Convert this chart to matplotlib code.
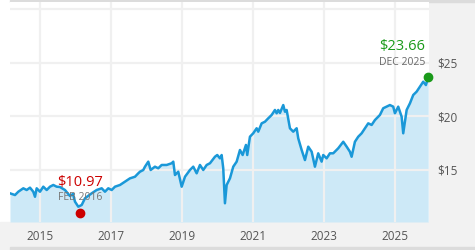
import matplotlib
matplotlib.use("Agg")
import matplotlib.pyplot as plt
from matplotlib.patches import Rectangle

plt.rcParams["font.family"] = ["Open Sans", "DejaVu Sans"]

# price history (decimal years, dollars)
years = [2014.155, 2014.296, 2014.389, 2014.530, 2014.625, 2014.718, 2014.811, 2014.859,
         2014.907, 2015.000, 2015.093, 2015.189, 2015.282, 2015.375, 2015.470, 2015.563,
         2015.704, 2015.845, 2015.930, 2015.986, 2016.079, 2016.175, 2016.268, 2016.352,
         2016.456, 2016.597, 2016.738, 2016.831, 2016.924, 2017.020, 2017.113, 2017.254,
         2017.394, 2017.535, 2017.676, 2017.769, 2017.817, 2017.910, 2017.958, 2018.051,
         2018.118, 2018.239, 2018.332, 2018.428, 2018.569, 2018.710, 2018.755, 2018.803,
         2018.896, 2018.992, 2019.085, 2019.225, 2019.318, 2019.414, 2019.507, 2019.600,
         2019.696, 2019.789, 2019.930, 2019.994, 2020.070, 2020.118, 2020.163, 2020.211,
         2020.259, 2020.352, 2020.445, 2020.541, 2020.634, 2020.710, 2020.803, 2020.839,
         2020.915, 2021.008, 2021.104, 2021.149, 2021.245, 2021.338, 2021.431, 2021.527,
         2021.620, 2021.668, 2021.713, 2021.761, 2021.854, 2021.901, 2021.949, 2022.042,
         2022.135, 2022.231, 2022.276, 2022.372, 2022.465, 2022.558, 2022.654, 2022.746,
         2022.839, 2022.935, 2022.980, 2023.076, 2023.169, 2023.262, 2023.403, 2023.544,
         2023.640, 2023.732, 2023.780, 2023.873, 2023.966, 2024.062, 2024.155, 2024.248,
         2024.344, 2024.437, 2024.577, 2024.670, 2024.766, 2024.859, 2024.952, 2025.000,
         2025.093, 2025.189, 2025.234, 2025.330, 2025.423, 2025.516, 2025.611, 2025.704,
         2025.797, 2025.873, 2025.938]
prices = [12.82, 12.66, 12.97, 13.29, 13.13, 13.35, 12.97, 12.50,
          13.29, 12.97, 13.44, 13.13, 13.44, 13.60, 13.44, 13.41,
          13.13, 12.57, 12.76, 12.04, 11.57, 11.73, 12.36, 12.57,
          12.82, 13.13, 13.29, 12.97, 13.29, 13.13, 13.44, 13.60,
          13.91, 14.22, 14.37, 14.69, 14.84, 15.00, 15.31, 15.78,
          15.00, 15.31, 15.16, 15.47, 15.47, 15.63, 15.78, 14.53,
          14.84, 13.44, 14.37, 15.00, 15.31, 14.69, 15.47, 15.00,
          15.47, 15.63, 16.24, 16.40, 16.09, 16.40, 15.16, 11.89,
          13.60, 14.22, 15.31, 15.78, 16.87, 16.40, 17.34, 16.40,
          18.11, 18.43, 18.90, 18.58, 19.36, 19.51, 19.83, 20.14,
          20.61, 20.30, 20.61, 20.33, 21.07, 20.45, 20.61, 18.90,
          18.58, 18.90, 17.96, 16.87, 15.93, 17.18, 16.71, 15.31,
          16.56, 15.78, 16.40, 16.09, 16.56, 16.56, 17.03, 17.64,
          17.18, 16.71, 16.24, 17.64, 18.11, 18.43, 18.90, 19.36,
          19.21, 19.67, 20.14, 20.77, 20.92, 21.07, 20.92, 20.30,
          20.92, 19.98, 18.43, 20.61, 21.23, 22.01, 22.32, 22.79,
          23.25, 22.94, 23.66]

low_year, low_price, low_label = 2016.13, 10.97, "FEB 2016"
last_year, last_price, last_label = 2025.938, 23.66, "DEC 2025"

x_ticks = [2015, 2017, 2019, 2021, 2023, 2025]
y_ticks = [15, 20, 25, 30]
y_labels = ["$15", "$20", "$25", ""]

W, H = 475, 250
fig = plt.figure(figsize=(W / 100, H / 100), dpi=100)

# grey frame: bottom band, right panel, thin top and bottom rules
frame = [((0, 0), 1, 28 / H, "#f2f2f2"),
         ((429 / W, 0), 46 / W, 1, "#f2f2f2"),
         ((10 / W, 0), 465 / W, 3 / H, "#dcdcdc"),
         ((10 / W, 248 / H), 465 / W, 2 / H, "#dcdcdc")]
for xy, w, h, c in frame:
    fig.patches.append(Rectangle(xy, w, h, transform=fig.transFigure,
                                 color=c, zorder=-1))

ax = fig.add_axes([10 / W, 28 / H, 419 / W, 220 / H])
ymin = 10.14
ax.set_xlim(2014.155, 2025.96)
ax.set_ylim(ymin, 30.7)

ax.fill_between(years, prices, ymin, color="#cde9f7", lw=0, zorder=1)
ax.plot(years, prices, color="#1a98d8", lw=1.8, zorder=2)

ax.set_axisbelow("line")
ax.grid(color="#f0f0f0", lw=1.6)
for s in ax.spines.values():
    s.set_visible(False)

ax.set_xticks(x_ticks)
ax.set_xticklabels([str(y) for y in x_ticks])
ax.set_yticks(y_ticks)
ax.set_yticklabels(y_labels)
ax.yaxis.tick_right()
ax.tick_params(axis="both", length=0, labelsize=8.5, colors="#555555")
ax.tick_params(axis="x", pad=6)
ax.tick_params(axis="y", pad=6)

# low point
ax.plot(low_year, low_price, "o", ms=6, color="#cc0000", zorder=4, clip_on=False)
ax.annotate(f"${low_price:.2f}", (low_year, low_price), xytext=(0, 22),
            textcoords="offset points", ha="center", va="center",
            color="#cc0000", fontsize=10.5, zorder=5)
ax.annotate(low_label, (low_year, low_price), xytext=(0, 11),
            textcoords="offset points", ha="center", va="center",
            color="#777777", fontsize=7.5, zorder=5)

# latest point
ax.plot(last_year, last_price, "o", ms=6, color="#1a9a1a", zorder=4, clip_on=False)
ax.annotate(f"${last_price:.2f}", (last_year, last_price), xytext=(-2, 22.5),
            textcoords="offset points", ha="right", va="center",
            color="#1a9a1a", fontsize=10.5, zorder=5)
ax.annotate(last_label, (last_year, last_price), xytext=(-2, 11),
            textcoords="offset points", ha="right", va="center",
            color="#666666", fontsize=7.5, zorder=5)

fig.savefig("out.png", dpi=100)
